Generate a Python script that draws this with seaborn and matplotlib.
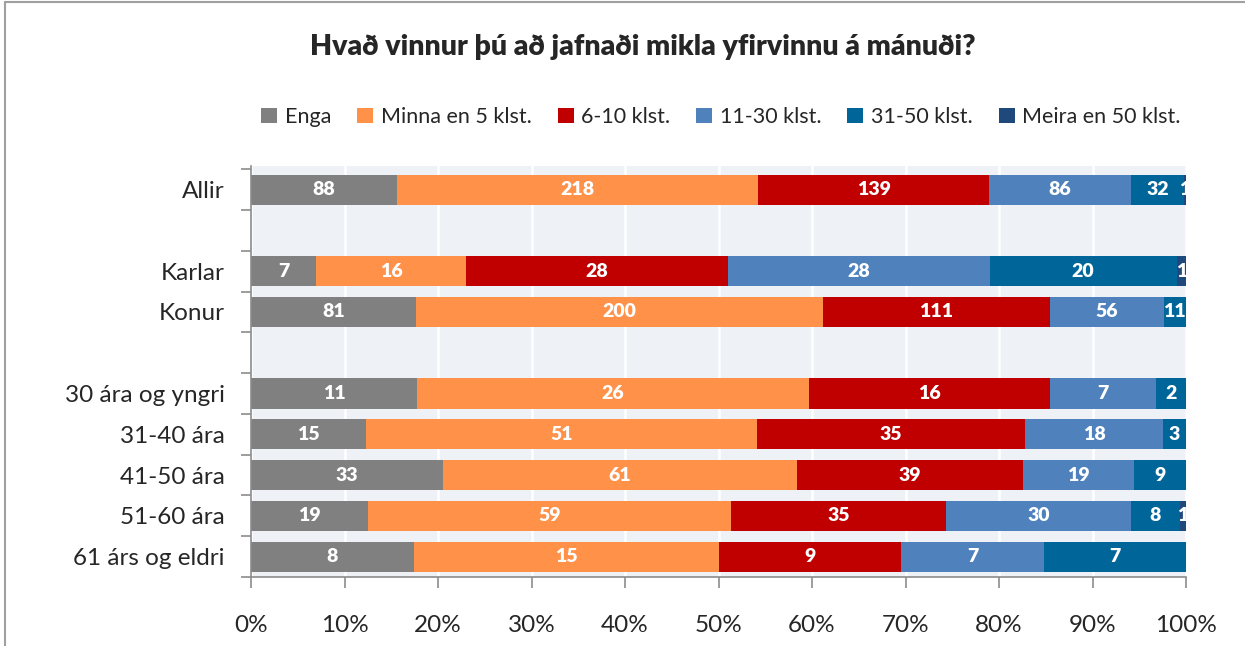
import numpy as np
import pandas as pd
import matplotlib
matplotlib.use("Agg")
import matplotlib.pyplot as plt
from matplotlib.lines import Line2D
from matplotlib.patches import Patch
import seaborn as sns

title = "Hvað vinnur þú að jafnaði mikla yfirvinnu á mánuði?"
rows = ["Allir", " ", "Karlar", "Konur", "  ", "30 ára og yngri", "31-40 ára",
        "41-50 ára", "51-60 ára", "61 árs og eldri"]
groups = ["Allir", "Karlar", "Konur", "30 ára og yngri", "31-40 ára",
          "41-50 ára", "51-60 ára", "61 árs og eldri"]
series = ["Enga", "Minna en 5 klst.", "6-10 klst.", "11-30 klst.",
          "31-50 klst.", "Meira en 50 klst."]
enga = [88, 7, 81, 11, 15, 33, 19, 8]
minna5 = [218, 16, 200, 26, 51, 61, 59, 15]
klst6_10 = [139, 28, 111, 16, 35, 39, 35, 9]
klst11_30 = [86, 28, 56, 7, 18, 19, 30, 7]
klst31_50 = [32, 20, 11, 2, 3, 9, 8, 7]
meira50 = [1, 1, 0, 0, 0, 0, 1, 0]
colors = ["#808080", "#FF9148", "#C00000", "#4F81BD", "#006699", "#1F497D"]
xticks = [0, 0.1, 0.2, 0.3, 0.4, 0.5, 0.6, 0.7, 0.8, 0.9, 1.0]

counts = pd.DataFrame(dict(zip(series, [enga, minna5, klst6_10, klst11_30,
                                        klst31_50, meira50])), index=groups)
share = counts.div(counts.sum(axis=1), axis=0)
cum = share.cumsum(axis=1)

sns.set_theme(style="white")
plt.rcParams["font.family"] = ["Lato", "DejaVu Sans"]

fig = plt.figure(figsize=(12.45, 6.46), dpi=100)
ax = fig.add_axes([251 / 1245, 1 - 577 / 646, 935 / 1245, 411 / 646])
ax.set_facecolor("#EEF1F6")

# stacked bars: draw cumulative totals, widest first
for name, col in reversed(list(zip(series, colors))):
    d = pd.DataFrame({"row": groups, "val": cum[name].values})
    sns.barplot(data=d, y="row", x="val", order=rows, color=col, width=0.74,
                linewidth=0, saturation=1, ax=ax, orient="h")

for g in groups:
    yi = rows.index(g)
    for name in series:
        n = counts.loc[g, name]
        if n == 0:
            continue
        xc = cum.loc[g, name] - share.loc[g, name] / 2
        ax.text(xc, yi, str(n), ha="center", va="center", color="white",
                fontsize=14, fontweight="heavy", clip_on=True)

ax.set_xlim(0, 1)
ax.set_ylim(9.5, -0.58)
ax.set_xticks(xticks)
ax.set_xticklabels([f"{int(round(t * 100))}%" for t in xticks])
ax.set_xlabel("")
ax.set_ylabel("")
ax.set_yticks(range(len(rows)))
ax.set_yticklabels(rows)
ax.set_yticks(np.arange(-0.5, len(rows), 1), minor=True)
ax.tick_params(axis="y", which="major", length=0, pad=19, labelsize=17.5)
ax.tick_params(axis="y", which="minor", length=7, width=1.2, color="#8C8C8C", left=True)
ax.tick_params(axis="x", length=8, width=1.2, color="#8C8C8C", bottom=True,
               pad=19, labelsize=17.5)
ax.grid(axis="x", color="white", linewidth=1.8)
ax.set_axisbelow(True)
for side in ["top", "right"]:
    ax.spines[side].set_visible(False)
for side in ["left", "bottom"]:
    ax.spines[side].set_color("#8C8C8C")
    ax.spines[side].set_linewidth(1.2)

fig.text(0.516, 1 - 47 / 646, title, ha="center", va="center",
         fontsize=20.5, fontweight="heavy")
handles = [Patch(facecolor=c, edgecolor="none") for c in colors]
fig.legend(handles, series, loc="center", bbox_to_anchor=(721 / 1245, 1 - 117 / 646),
           ncol=6, frameon=False, fontsize=15.5, handlelength=0.75, handleheight=0.75,
           handletextpad=0.35, columnspacing=1.2)

# chart frame (left and top edges visible)
fig.add_artist(Line2D([5 / 1245, 5 / 1245], [0, 1 - 2 / 646], color="#A0A0A0", lw=1.5))
fig.add_artist(Line2D([5 / 1245, 1], [1 - 2 / 646, 1 - 2 / 646], color="#A0A0A0", lw=1.5))

fig.savefig("out.png", dpi=100)
